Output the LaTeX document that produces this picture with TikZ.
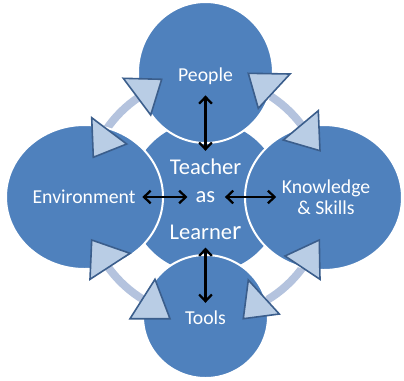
\documentclass[tikz,border=0pt]{standalone}
\usepackage{fontspec}
\setmainfont{Carlito}
\usetikzlibrary{arrows.meta}
\definecolor{discblue}{HTML}{4F81BD}
\definecolor{ringblue}{HTML}{B4C3DE}
\definecolor{headfill}{HTML}{B9CDE5}
\definecolor{headline}{HTML}{3B5E8C}

\begin{document}
\begin{tikzpicture}[x=0.75pt,y=-0.75pt]
    \tikzset{
      disc/.style={draw=white, line width=1.5pt, fill=discblue},
      head/.style={draw=headline, fill=headfill, line width=1.2pt},
      lbl/.style={text=white, inner sep=0pt, font=\fontsize{14.8}{15.8}\selectfont},
      hub/.style={text=white, inner sep=0pt, font=\fontsize{16.9}{20}\selectfont},
      line/.style={draw, line width=1.7pt, {Straight Barb[length=5pt,width=9.5pt]}-{Straight Barb[length=5pt,width=9.5pt]}}
    }
    \useasboundingbox (0,0) rectangle (404,380);

    \draw [ringblue, line width=6pt] (205.5,197) circle [radius=120];
    \fill [discblue] (205.5,197) circle [radius=76];
    \path [disc] (205.5,72.5) ellipse [x radius=67.5, y radius=70.5];
    \path [disc] (84.5,197) ellipse [x radius=78.5, y radius=72];
    \path [disc] (323.5,197.5) ellipse [x radius=78.5, y radius=72.5];
    \path [disc] (205.5,316.5) ellipse [x radius=62.5, y radius=61.5];

    \foreach \a/\b/\c in {
        {(123.3,78.3)}/{(161.7,79.3)}/{(150.7,115)},
        {(91.7,117.7)}/{(126.7,144)}/{(93.3,157.3)},
        {(248.3,73.3)}/{(290,74)}/{(258.3,108.3)},
        {(318.3,110.7)}/{(283.3,140)}/{(320,150.7)},
        {(91.7,240)}/{(130,253.3)}/{(90,279.3)},
        {(155,279.3)}/{(130,318.7)}/{(170,318.7)},
        {(319.3,240)}/{(285,256)}/{(320,279.3)},
        {(248.3,280)}/{(243.3,318.7)}/{(279.3,314)}}
      \draw [head] \a -- \b -- \c -- cycle;

    \node [lbl] (people) at (205.5,76) {People};
    \node [lbl] (env) at (84,197) {Environment};
    \node [lbl, align=center] (know) at (326,197) {Knowledge\\\& Skills};
    \node [lbl] (tools) at (205.5,318) {Tools};
    \node [hub] (teacher) at (205.5,167) {Teacher};
    \node [hub] (as) at (205.5,197) {as};
    \node [hub] (learner) at (205.5,232) {Learne{\fontsize{20}{20}\selectfont r}};

    \path [line, shorten <=8pt, shorten >=6pt] (people)--(teacher);
    \path [line, shorten <=5pt, shorten >=6pt] (env)--(as);
    \path [line, shorten <=7pt, shorten >=4pt] (as)--(know);
    \path [line, shorten <=6pt, shorten >=6pt] (learner)--(tools);
\end{tikzpicture}
\end{document}
